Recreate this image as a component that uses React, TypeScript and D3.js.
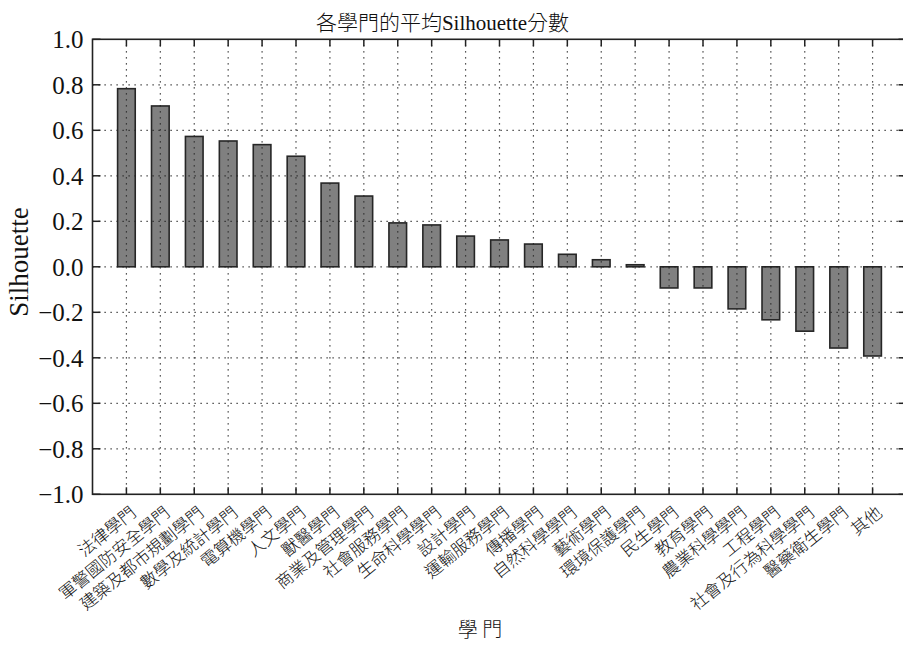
import React from "react";
import * as d3 from "d3";

const categories = [
  "法律學門", "軍警國防安全學門", "建築及都市規劃學門", "數學及統計學門", "電算機學門",
  "人文學門", "獸醫學門", "商業及管理學門", "社會服務學門", "生命科學學門",
  "設計學門", "運輸服務學門", "傳播學門", "自然科學學門", "藝術學門",
  "環境保護學門", "民生學門", "教育學門", "農業科學學門", "工程學門",
  "社會及行為科學學門", "醫藥衛生學門", "其他",
];
const values = [
  0.783, 0.707, 0.573, 0.553, 0.537,
  0.486, 0.368, 0.311, 0.193, 0.184,
  0.135, 0.118, 0.100, 0.055, 0.031,
  0.009, -0.093, -0.093, -0.185, -0.233,
  -0.283, -0.357, -0.392,
];
const yTicks = [1.0, 0.8, 0.6, 0.4, 0.2, 0.0, -0.2, -0.4, -0.6, -0.8, -1.0];
const titleParts = ["各學門的平均", "Silhouette", "分數"];

const W = 903;
const H = 645;
const LEFT = 92.5;
const RIGHT = 906.5;
const TOP = 39.3;
const BOTTOM = 494.3;

const LATIN = "Liberation Serif, Times New Roman, serif";
const CJK = "Noto Sans CJK TC, Noto Sans CJK SC, sans-serif";

function fmt(v: number) {
  const s = Math.abs(v).toFixed(1);
  return v < -1e-9 ? "\u2212" + s : s;
}

export default function App() {
  const x = d3.scaleLinear().domain([-1, categories.length]).range([LEFT, RIGHT]);
  const y = d3.scaleLinear().domain([-1, 1]).range([BOTTOM, TOP]);
  const step = x(1) - x(0);
  const bw = step * 0.52;
  const dot = "1.2,4.8";
  return (
    <svg
      width={W}
      height={H}
      style={{ position: "absolute", left: 0, top: 0, background: "#fff" }}
    >
      <rect x={0} y={0} width={W} height={H} fill="#fff" />
      {values.map((v, i) => {
        const y0 = y(0);
        const y1 = y(v);
        return (
          <rect
            key={i}
            x={x(i) - bw / 2}
            y={Math.min(y0, y1)}
            width={bw}
            height={Math.max(Math.abs(y1 - y0), 1.2)}
            fill="#808080"
            stroke="#262626"
            strokeWidth={1.6}
          />
        );
      })}
      <g stroke="#222" strokeWidth={1.2} strokeDasharray={dot}>
        {yTicks
          .filter((t) => t > -1 && t < 1)
          .map((t) => (
            <line key={"gy" + t} x1={LEFT} x2={RIGHT} y1={y(t)} y2={y(t)} />
          ))}
        {categories.map((c, i) => (
          <line key={"gx" + i} x1={x(i)} x2={x(i)} y1={TOP} y2={BOTTOM} />
        ))}
      </g>
      <g stroke="#222" strokeWidth={1.5}>
        {yTicks.map((t) => (
          <g key={"ty" + t}>
            <line x1={LEFT} x2={LEFT + 8} y1={y(t)} y2={y(t)} />
            <line x1={RIGHT - 8} x2={RIGHT} y1={y(t)} y2={y(t)} />
          </g>
        ))}
        {categories.map((c, i) => (
          <g key={"tx" + i}>
            <line x1={x(i)} x2={x(i)} y1={BOTTOM} y2={BOTTOM - 7} />
            <line x1={x(i)} x2={x(i)} y1={TOP} y2={TOP + 7} />
          </g>
        ))}
      </g>
      <rect
        x={LEFT}
        y={TOP}
        width={RIGHT - LEFT}
        height={BOTTOM - TOP}
        fill="none"
        stroke="#222"
        strokeWidth={1.6}
      />
      {yTicks.map((t) => (
        <text
          key={"ly" + t}
          x={83.5}
          y={y(t)}
          dy="0.36em"
          textAnchor="end"
          fontFamily={LATIN}
          fontSize={25}
          fill="#111"
        >
          {fmt(t)}
        </text>
      ))}
      {categories.map((c, i) => (
        <text
          key={"lx" + i}
          transform={`translate(${x(i) + 6},${509}) rotate(-39)`}
          textAnchor="end"
          dominantBaseline="central"
          fontFamily={CJK}
          fontSize={17}
          fontWeight={300}
          fill="#111"
        >
          {c}
        </text>
      ))}
      <text x={442.5} y={30} textAnchor="middle" fontSize={21} fill="#111">
        <tspan fontFamily={CJK} fontWeight={300}>{titleParts[0]}</tspan>
        <tspan fontFamily={LATIN} fontWeight={400}>{titleParts[1]}</tspan>
        <tspan fontFamily={CJK} fontWeight={300}>{titleParts[2]}</tspan>
      </text>
      <text
        transform={`translate(${28},${262}) rotate(-90)`}
        textAnchor="middle"
        fontFamily={LATIN}
        fontSize={27}
        fill="#111"
      >
        Silhouette
      </text>
      <text
        x={480}
        y={637}
        textAnchor="middle"
        fontFamily={CJK}
        fontSize={20}
        fontWeight={300}
        fill="#111"
      >
        {"學 門"}
      </text>
    </svg>
  );
}
